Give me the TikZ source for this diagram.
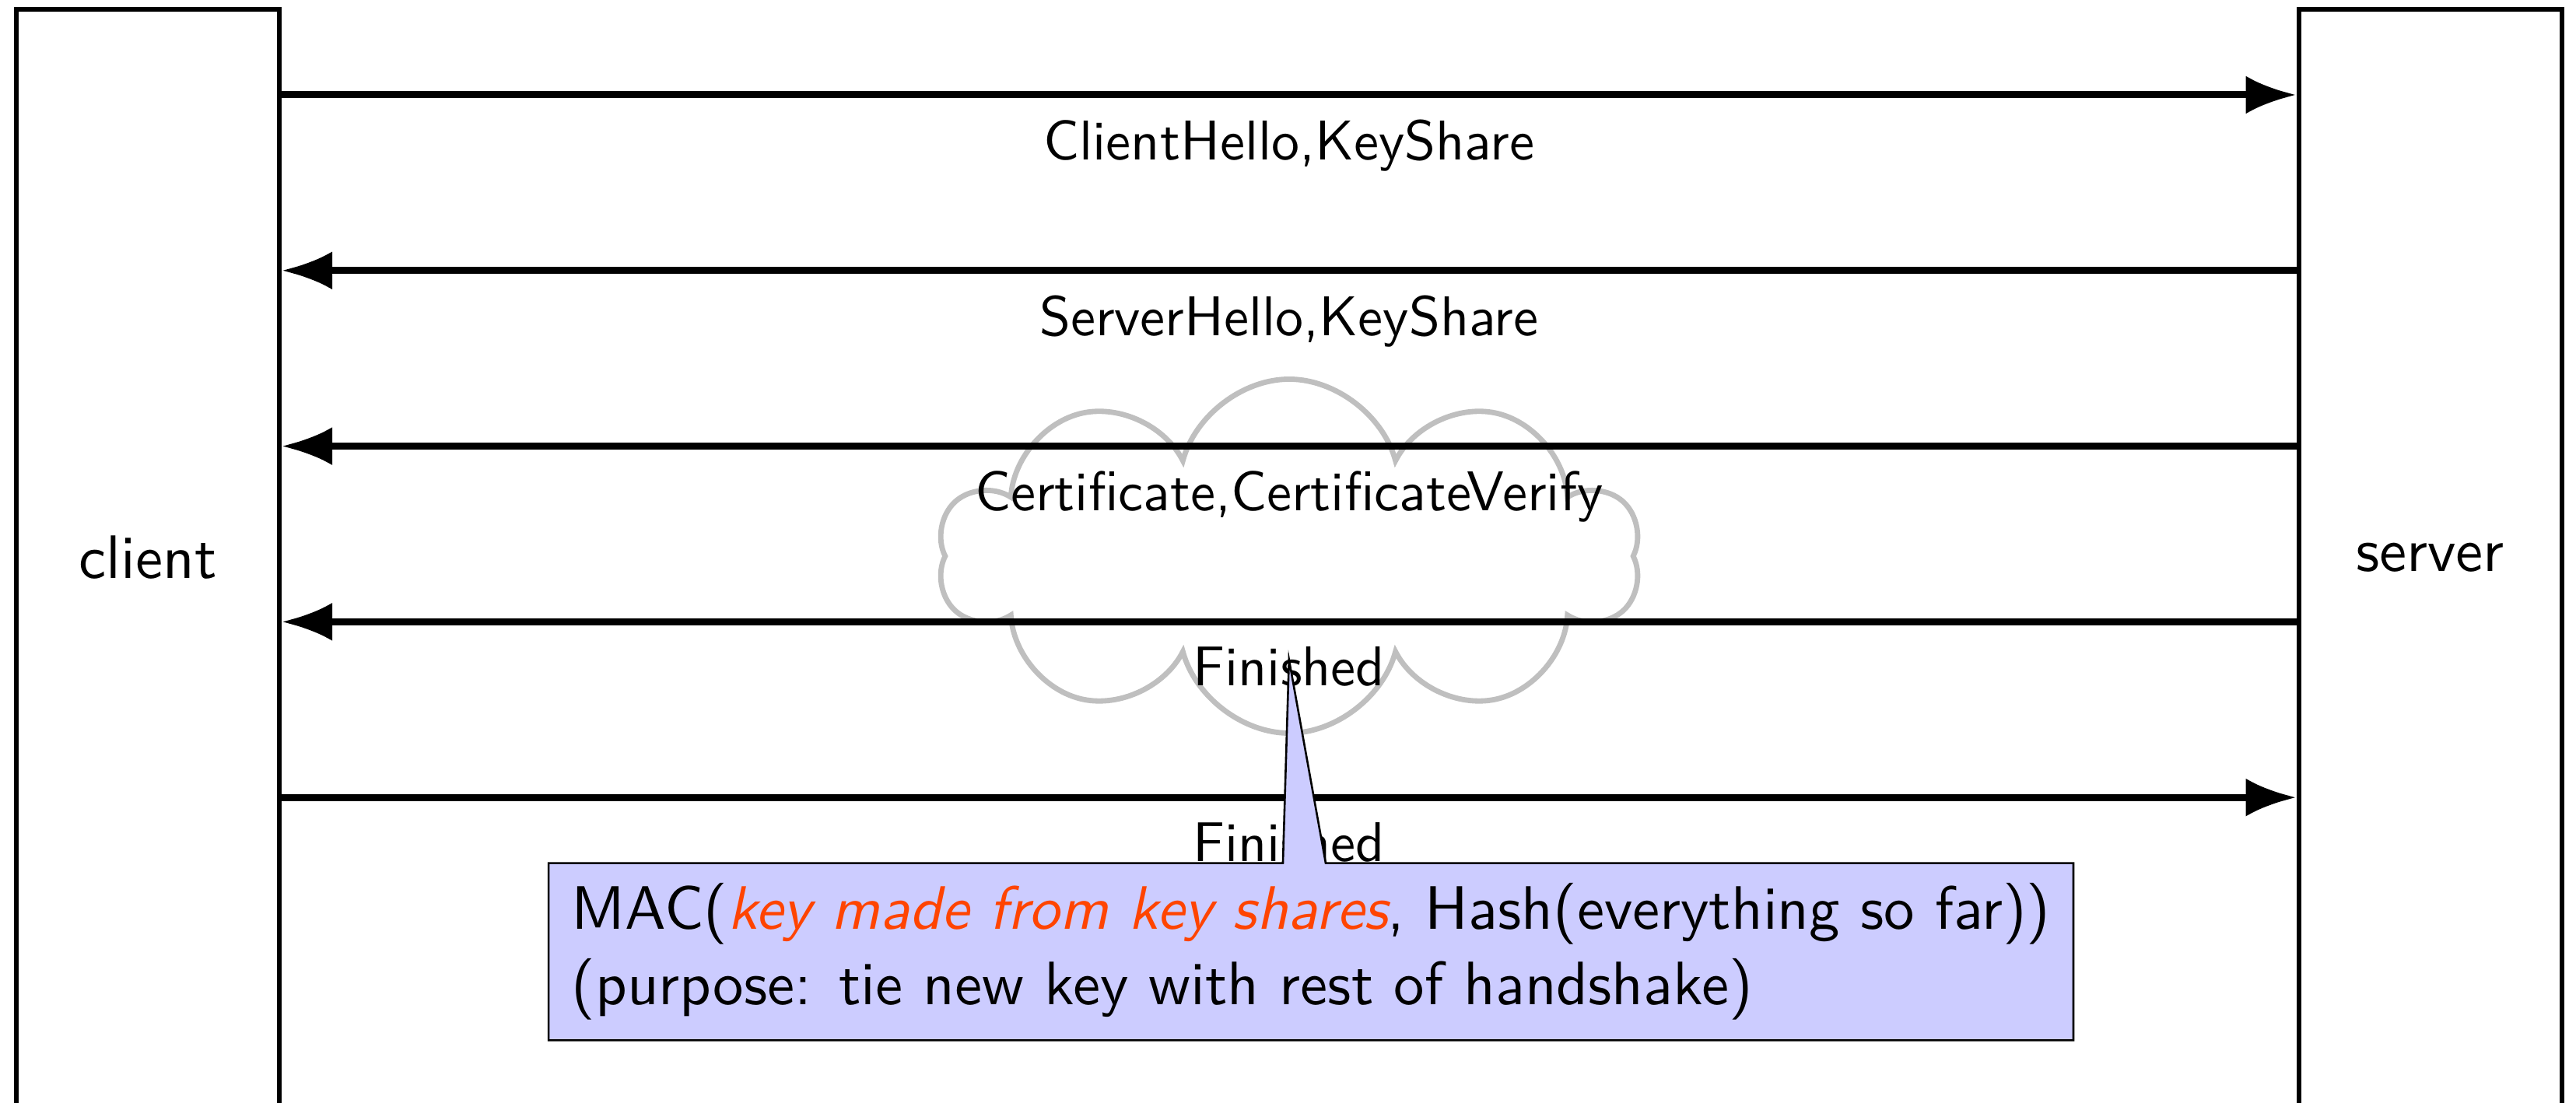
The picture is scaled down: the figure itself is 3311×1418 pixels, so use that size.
\documentclass[tikz,border=0pt]{standalone}
\usetikzlibrary{arrows.meta,shapes.symbols,shapes.callouts,calc}
\renewcommand{\familydefault}{\sfdefault}
\definecolor{keyred}{RGB}{255,68,0}
\def\PX{0.13889pt}
\begin{document}
\begin{tikzpicture}[x=\PX, y=-\PX,
  party/.style={draw, line width=0.83pt, minimum width=46.94pt, minimum height=195.8pt,
    inner sep=0pt, font=\fontsize{10.95}{13.2}\selectfont},
  msg/.style={line width=1.25pt, -{Latex[length=9.03pt, width=6.8pt]}},
  lbl/.style={below=0.5pt, font=\fontsize{10}{12}\selectfont},
  note/.style={rectangle callout, draw, fill=blue!20, line width=0.36pt,
    callout pointer width=7.64pt, align=left, inner xsep=4.1pt, inner ysep=3.6pt,
    font=\fontsize{10.95}{13.47}\selectfont}]
\useasboundingbox (0,0) rectangle (3311,1418);
\fill[white] (0,0) rectangle (3311,1418);
\clip (0,0) rectangle (3311,1418);

% the two endpoints of the handshake
\node[party] (client) at (190,717) {client};
\node[party] (server) at (3123.5,717) {server};

% cloud behind the encrypted messages
\node[cloud, cloud puffs=10, draw=black!25, line width=0.95pt,
  minimum width=125.3pt, minimum height=63.2pt] (cloud) at (1657,715) {};

% message rows
\coordinate (m1) at (1657,122);
\coordinate (m2) at (1657,347.8);
\coordinate (m3) at (1657,573.6);
\coordinate (m4) at (1657,799.4);
\coordinate (m5) at (1657,1025.2);

\draw[msg] (client.east |- m1) -- (server.west |- m1) node[lbl, midway] (l1) {ClientHello,KeyShare};
\draw[msg] (server.west |- m2) -- (client.east |- m2) node[lbl, midway] (l2) {ServerHello,KeyShare};
\draw[msg] (server.west |- m3) -- (client.east |- m3) node[lbl, midway] (l3) {Certificate,CertificateVerify};
\draw[msg] (server.west |- m4) -- (client.east |- m4) node[lbl, midway] (l4) {Finished};
\draw[msg] (client.east |- m5) -- (server.west |- m5) node[lbl, midway] (l5) {Finished};

% explanation of the Finished message
\node[note, callout absolute pointer={($(l4.center)+(0,-9)$)}] (mac) at (1685,1223.5)
  {MAC(\textit{\color{keyred}key made from key shares}, Hash(everything so far))\\
   (purpose: tie new key with rest of handshake)};
\end{tikzpicture}
\end{document}
